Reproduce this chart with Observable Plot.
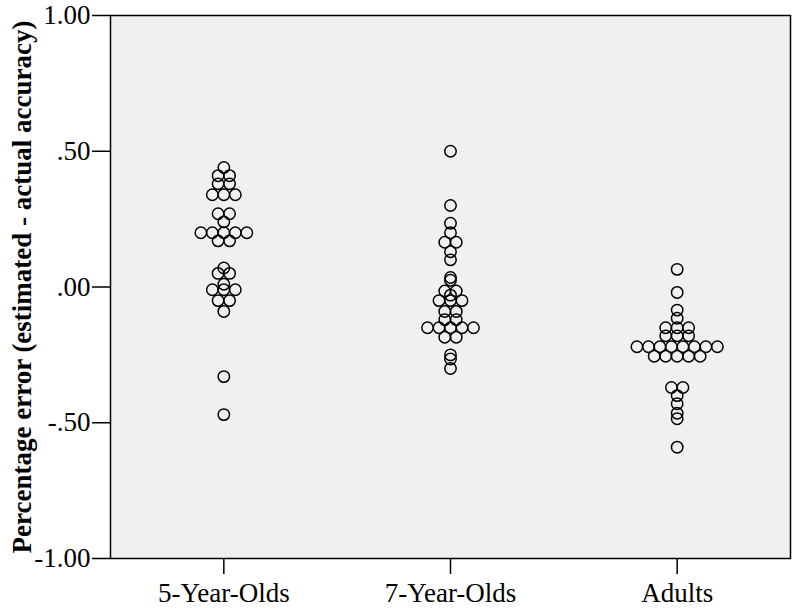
<!DOCTYPE html>
<html><head><meta charset="utf-8">
<script src="https://cdn.jsdelivr.net/npm/d3@7"></script>
<script src="https://cdn.jsdelivr.net/npm/@observablehq/plot@0.6"></script>
<style>body{margin:0;background:#fff}</style>
</head><body><div id="chart"></div>
<script>
const categories = ["5-Year-Olds", "7-Year-Olds", "Adults"];
const fiveYearOlds = [0.44, 0.41, 0.41, 0.38, 0.38, 0.34, 0.34, 0.34, 0.27, 0.27, 0.24,
  0.20, 0.20, 0.20, 0.20, 0.20, 0.17, 0.17, 0.07, 0.05, 0.05, 0.01, -0.01, -0.01, -0.01,
  -0.05, -0.05, -0.09, -0.33, -0.47];
const sevenYearOlds = [0.50, 0.30, 0.235, 0.20, 0.165, 0.165, 0.13, 0.10, 0.035, 0.025,
  -0.015, -0.015, -0.03, -0.05, -0.05, -0.05, -0.09, -0.09, -0.12, -0.12,
  -0.15, -0.15, -0.15, -0.15, -0.15, -0.185, -0.185, -0.25, -0.265, -0.30];
const adults = [0.065, -0.02, -0.085, -0.115, -0.15, -0.15, -0.15, -0.18, -0.18, -0.18,
  -0.22, -0.22, -0.22, -0.22, -0.22, -0.22, -0.22, -0.22,
  -0.255, -0.255, -0.255, -0.255, -0.255, -0.37, -0.37, -0.40, -0.43, -0.465, -0.485, -0.59];
const yTicks = [1, 0.5, 0, -0.5, -1];
const yTitle = "Percentage error (estimated - actual accuracy)";

const groups = [fiveYearOlds, sevenYearOlds, adults];
const step = 0.0507; // spacing between stacked dots, in category units
const data = [];
groups.forEach((vals, gi) => {
  const counts = d3.rollup(vals, v => v.length, d => d);
  const seen = new Map();
  vals.forEach(v => {
    const n = counts.get(v);
    const k = seen.get(v) || 0;
    seen.set(v, k + 1);
    data.push({category: categories[gi], value: v, pos: gi + (k - (n - 1) / 2) * step});
  });
});

const fmt = d => d3.format(".2f")(d).replace("\u2212", "-").replace(/^(-?)0\./, "$1.");
const font = "'Liberation Serif', 'Times New Roman', serif";

const chart = Plot.plot({
  width: 800, height: 610,
  marginLeft: 110, marginRight: 10, marginTop: 15, marginBottom: 52,
  style: {fontFamily: font, fontSize: "27px", background: "white", color: "black"},
  x: {domain: [-0.5, 2.5], axis: null},
  y: {domain: [-1, 1], axis: null},
  marks: [
    Plot.frame({fill: "#f0f0f0", stroke: "none"}),
    Plot.dot(data, {x: "pos", y: "value", r: 5.7, stroke: "black", strokeWidth: 1.5, fill: "none"}),
    Plot.frame({stroke: "black", strokeWidth: 1.5}),
    Plot.axisX({ticks: [0, 1, 2], tickFormat: i => categories[i], tickSize: 16, tickPadding: 8,
      fontSize: 27, label: null, stroke: "black", strokeWidth: 1.5}),
    Plot.axisY({ticks: yTicks, tickFormat: fmt, tickSize: 18, tickPadding: 2,
      fontSize: 27, label: null, stroke: "black", strokeWidth: 1.5}),
    Plot.text([yTitle], {text: d => d, frameAnchor: "left", rotate: -90, dx: -88,
      textAnchor: "middle", fontWeight: "bold", fontSize: 27, fill: "black"})
  ]
});
document.getElementById("chart").appendChild(chart);
</script>
</body></html>
